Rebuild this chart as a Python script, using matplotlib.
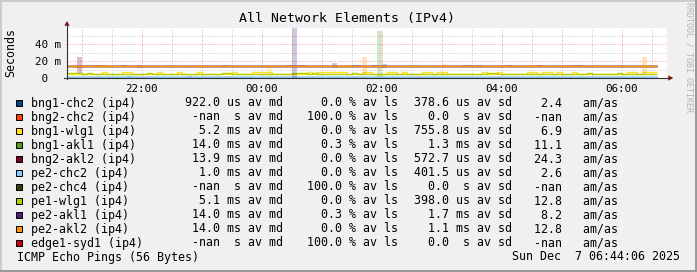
import math
import numpy as np
import matplotlib
matplotlib.use("Agg")
import matplotlib.pyplot as plt
from matplotlib.patches import Rectangle, Polygon

plt.rcParams["font.family"] = ["DejaVu Sans Mono", "DejaVu Sans"]

W, H = 697, 272

# time axis: minutes counted from 20:00, 5 minute steps starting 20:45
START_MIN = 45
STEP_MIN = 5
X_RANGE = (45.3, 645.3)   # 20:45 .. 06:45

# median rtt in ms per step (118 steps, 20:45 .. 06:35)
bng1_chc2_med = [
    0.9, 0.9, 0.9, 0.9, 0.9, 0.9, 0.9, 0.9, 0.9, 0.9, 0.9, 0.9, 1.6, 0.9, 0.9, 0.9, 0.9, 0.9, 0.9, 0.9,
    0.9, 0.9, 0.9, 0.9, 1.6, 0.9, 0.9, 0.9, 0.9, 0.9, 0.9, 0.9, 0.9, 0.9, 0.9, 0.9, 0.9, 0.9, 0.9, 0.9,
    0.9, 0.9, 0.9, 0.9, 0.9, 0.9, 0.9, 0.9, 0.9, 0.9, 0.9, 0.9, 0.9, 0.9, 0.9, 0.9, 0.9, 0.9, 0.9, 0.9,
    0.9, 0.9, 0.9, 0.9, 0.9, 0.9, 0.9, 0.9, 0.9, 0.9, 0.9, 0.9, 0.9, 0.9, 0.9, 0.9, 0.9, 0.9, 0.9, 0.9,
    0.9, 0.9, 0.9, 0.9, 0.9, 0.9, 0.9, 0.9, 0.9, 0.9, 0.9, 0.9, 0.9, 0.9, 0.9, 0.9, 0.9, 0.9, 0.9, 0.9,
    0.9, 0.9, 0.9, 0.9, 0.9, 0.9, 0.9, 0.9, 0.9, 0.9, 0.9, 0.9, 0.9, 0.9, 0.9, 0.9, 0.9, 0.9]
bng1_wlg1_med = [
    5.2, 5.2, 5.2, 5.2, 5.2, 5.2, 5.2, 6.8, 5.2, 5.2, 5.2, 6.8, 6.8, 5.2, 5.2, 5.2, 5.2, 5.2, 6.8, 5.2,
    5.2, 5.2, 6.8, 5.2, 5.2, 5.2, 6.8, 5.2, 5.2, 5.2, 5.2, 5.2, 5.2, 6.8, 5.2, 5.2, 5.2, 6.8, 6.8, 6.8,
    6.8, 5.2, 5.2, 5.2, 5.2, 5.2, 5.2, 5.2, 6.8, 5.2, 6.8, 6.8, 6.8, 6.8, 6.8, 6.8, 5.2, 5.2, 5.2, 6.8,
    6.8, 5.2, 5.2, 5.2, 6.8, 6.8, 5.2, 6.8, 5.2, 5.2, 5.2, 6.8, 6.8, 5.2, 6.8, 6.8, 5.2, 5.2, 5.2, 5.2,
    5.2, 5.2, 5.2, 6.8, 5.2, 5.2, 6.8, 5.2, 5.2, 5.2, 5.2, 5.2, 6.8, 6.8, 5.2, 6.8, 6.8, 5.2, 6.8, 5.2,
    5.2, 6.8, 5.2, 5.2, 5.2, 5.2, 5.2, 5.2, 5.2, 5.2, 5.2, 5.2, 6.8, 6.8, 5.2, 6.8, 6.8, 6.8]
bng1_akl1_med = [
    14.0, 14.0, 14.0, 14.0, 14.0, 14.0, 14.0, 14.0, 14.0, 14.0, 14.0, 14.0, 14.0, 14.0, 14.0, 14.0, 14.0, 14.0, 14.0, 14.0,
    14.0, 14.0, 14.0, 14.0, 14.0, 14.0, 14.0, 14.0, 14.0, 14.0, 14.0, 14.0, 14.0, 14.0, 14.0, 14.0, 14.0, 14.0, 14.0, 14.0,
    14.0, 14.0, 14.0, 14.0, 14.0, 14.0, 14.0, 14.0, 14.0, 14.0, 14.0, 14.0, 14.0, 14.0, 14.0, 14.0, 14.0, 14.0, 14.0, 14.0,
    14.0, 14.0, 14.1, 14.0, 14.0, 14.0, 14.0, 14.0, 14.0, 14.0, 14.0, 14.0, 14.0, 14.0, 14.0, 14.0, 14.0, 14.0, 14.0, 14.0,
    14.0, 14.0, 14.0, 14.0, 14.0, 14.0, 14.0, 14.0, 14.0, 14.0, 14.0, 14.0, 14.0, 14.0, 14.0, 14.0, 14.0, 14.0, 14.0, 14.0,
    14.0, 14.0, 14.0, 14.0, 14.0, 14.0, 14.0, 14.0, 14.0, 14.0, 14.0, 14.0, 14.0, 14.0, 14.0, 14.0, 14.0, 14.0]
bng2_akl2_med = [
    13.9, 13.9, 14.5, 13.9, 13.9, 14.0, 14.0, 14.0, 13.9, 13.9, 13.9, 14.0, 13.9, 13.9, 14.0, 13.9, 13.9, 13.9, 13.9, 13.9,
    13.9, 13.9, 13.9, 13.9, 13.9, 13.9, 13.9, 13.9, 13.9, 13.9, 13.9, 14.0, 13.9, 13.9, 13.9, 13.9, 13.9, 13.9, 13.9, 13.9,
    13.9, 13.9, 13.9, 13.9, 13.9, 13.9, 13.9, 13.9, 13.9, 13.9, 13.9, 13.9, 13.9, 13.9, 13.9, 13.9, 13.9, 13.9, 13.9, 13.9,
    13.9, 13.9, 13.9, 13.9, 13.9, 13.9, 13.9, 13.9, 13.9, 13.9, 13.9, 13.9, 13.9, 13.9, 13.9, 13.9, 13.9, 13.9, 13.9, 14.0,
    14.0, 13.9, 13.9, 13.9, 13.9, 13.9, 13.9, 13.9, 14.0, 13.9, 13.9, 13.9, 13.9, 13.9, 13.9, 13.9, 13.9, 13.9, 13.9, 13.9,
    13.9, 13.9, 14.0, 13.9, 13.9, 13.9, 13.9, 13.9, 13.9, 13.9, 13.9, 13.9, 13.9, 13.9, 13.9, 13.9, 13.9, 13.9]
pe2_chc2_med = [
    1.0, 1.0, 1.0, 1.0, 1.0, 1.0, 1.0, 1.0, 1.0, 1.0, 1.1, 1.1, 1.0, 1.0, 1.0, 1.0, 1.0, 1.0, 1.0, 1.0,
    1.0, 1.0, 1.0, 1.0, 1.0, 1.0, 1.0, 1.0, 1.0, 1.0, 1.0, 1.0, 1.1, 1.0, 1.0, 1.0, 1.0, 1.0, 1.0, 1.0,
    1.0, 1.0, 1.0, 1.0, 1.0, 1.0, 1.0, 1.0, 1.0, 1.0, 1.0, 1.0, 1.0, 1.1, 1.0, 1.0, 1.0, 1.0, 1.0, 1.0,
    1.0, 1.0, 1.0, 1.0, 1.0, 1.0, 1.0, 1.0, 1.0, 1.0, 1.0, 1.0, 1.0, 1.0, 1.0, 1.1, 1.0, 1.0, 1.0, 1.0,
    1.0, 1.0, 1.0, 1.0, 1.0, 1.0, 1.0, 1.0, 1.0, 1.0, 1.0, 1.0, 1.0, 1.0, 1.0, 1.0, 1.0, 1.0, 1.0, 1.0,
    1.0, 1.0, 1.0, 1.0, 1.0, 1.0, 1.0, 1.0, 1.0, 1.0, 1.0, 1.0, 1.0, 1.0, 1.0, 1.0, 1.0, 1.0]
pe1_wlg1_med = [
    6.0, 6.0, 6.0, 5.2, 6.0, 5.2, 5.2, 5.2, 5.2, 5.2, 5.2, 5.2, 5.2, 5.2, 5.2, 5.2, 6.0, 5.2, 5.2, 5.2,
    5.2, 5.2, 5.2, 5.2, 5.2, 5.2, 5.2, 5.2, 5.2, 5.2, 5.2, 6.0, 6.0, 5.2, 5.2, 5.2, 5.2, 5.2, 5.2, 5.2,
    5.2, 5.2, 5.2, 5.2, 5.2, 6.0, 6.0, 6.0, 5.2, 6.0, 5.2, 5.2, 5.2, 5.2, 5.2, 5.2, 5.2, 6.0, 5.2, 5.2,
    5.2, 5.2, 5.2, 5.2, 5.2, 5.2, 5.2, 5.2, 5.2, 5.2, 5.2, 5.2, 5.2, 5.2, 5.2, 5.2, 5.2, 5.2, 5.2, 5.2,
    5.2, 5.2, 5.2, 5.2, 6.0, 6.0, 5.2, 5.2, 5.2, 5.2, 5.2, 5.2, 5.2, 5.2, 5.2, 5.2, 5.2, 5.2, 5.2, 5.2,
    5.2, 5.2, 5.2, 5.2, 6.0, 5.2, 5.2, 5.2, 5.2, 5.2, 6.0, 5.2, 5.2, 5.2, 5.2, 5.2, 5.2, 5.2]
pe2_akl1_med = [
    14.0, 14.0, 14.0, 14.0, 14.0, 14.0, 14.0, 14.0, 14.0, 14.0, 14.0, 14.0, 14.0, 14.0, 14.0, 14.0, 14.0, 14.0, 14.0, 14.0,
    14.0, 14.0, 14.0, 14.0, 14.0, 14.0, 14.0, 14.0, 14.0, 14.0, 14.0, 14.0, 14.0, 14.0, 14.0, 14.0, 14.0, 14.0, 14.0, 14.0,
    14.0, 14.0, 14.0, 14.0, 14.1, 14.2, 14.1, 14.0, 14.0, 14.0, 14.0, 14.0, 14.0, 14.3, 14.0, 14.0, 14.0, 14.0, 14.0, 14.0,
    14.0, 14.0, 14.0, 14.2, 14.0, 14.0, 14.0, 14.0, 14.0, 14.0, 14.0, 14.0, 14.0, 14.0, 14.0, 14.0, 14.0, 14.0, 14.0, 14.0,
    14.0, 14.0, 14.0, 14.0, 14.0, 14.0, 14.0, 14.0, 14.0, 14.0, 14.0, 14.0, 14.0, 14.0, 14.1, 14.0, 14.0, 14.0, 14.0, 14.0,
    14.0, 14.0, 14.0, 14.0, 14.0, 14.0, 14.0, 14.0, 14.0, 14.0, 14.0, 14.0, 14.0, 14.0, 14.0, 14.0, 14.0, 14.0]
pe2_akl2_med = [
    14.3, 14.3, 14.4, 14.3, 14.3, 14.2, 14.3, 14.3, 14.3, 14.3, 14.3, 14.3, 14.4, 14.3, 14.3, 14.3, 14.3, 14.3, 14.2, 14.3,
    14.3, 14.3, 14.3, 14.3, 14.3, 14.3, 14.4, 14.3, 14.3, 14.3, 14.3, 14.3, 14.3, 14.3, 14.3, 14.2, 14.3, 14.3, 14.3, 14.3,
    14.3, 14.3, 14.3, 14.3, 14.3, 14.4, 14.3, 14.3, 14.3, 14.3, 14.3, 14.3, 14.3, 14.3, 14.3, 14.3, 14.3, 14.3, 14.3, 14.4,
    14.3, 14.3, 14.3, 14.3, 14.3, 14.3, 14.3, 14.3, 14.2, 14.3, 14.3, 14.3, 14.3, 14.3, 14.3, 14.3, 14.3, 14.3, 14.3, 14.3,
    14.3, 14.3, 14.3, 14.3, 14.3, 14.3, 14.3, 14.3, 14.3, 14.3, 14.3, 14.4, 14.3, 14.3, 14.3, 14.3, 14.3, 14.3, 14.3, 14.3,
    14.3, 14.3, 14.3, 14.3, 14.3, 14.3, 14.3, 14.3, 14.3, 14.3, 14.3, 14.3, 14.3, 14.3, 14.3, 14.4, 14.3, 14.3]

# smoke (std dev in ms) on the steps where it is visible: step -> value
bng1_chc2_sd = {12: 2.0, 24: 2.0}
bng1_wlg1_sd = {40: 14.0, 67: 4.0}
bng1_akl1_sd = {62: 84.0}
bng2_akl2_sd = {2: 20.0, 5: 3.0, 6: 3.0, 7: 3.0, 11: 3.0, 14: 4.0, 31: 3.0,
                79: 2.0, 80: 2.0, 88: 2.0, 102: 2.0}
pe2_chc2_sd = {10: 3.0, 11: 3.0, 32: 3.0, 53: 3.0, 75: 2.5}
pe1_wlg1_sd = {}
pe2_akl1_sd = {44: 2.5, 45: 120.0, 46: 2.5, 47: 2.5, 53: 6.0, 57: 2.5, 58: 2.5,
               61: 2.0, 63: 5.0, 82: 2.5, 94: 3.0, 101: 2.5}
pe2_akl2_sd = {5: 2.0, 6: 2.0, 7: 2.0, 26: 2.5, 42: 2.0, 48: 2.0, 56: 2.0,
               59: 20.0, 75: 3.5, 91: 2.5, 92: 2.5, 107: 2.5, 115: 20.0}

# legend
names = ["bng1-chc2 (ip4)", "bng2-chc2 (ip4)", "bng1-wlg1 (ip4)", "bng1-akl1 (ip4)",
         "bng2-akl2 (ip4)", "pe2-chc2 (ip4)", "pe2-chc4 (ip4)", "pe1-wlg1 (ip4)",
         "pe2-akl1 (ip4)", "pe2-akl2 (ip4)", "edge1-syd1 (ip4)"]
colors = ["#004586", "#ff420e", "#ffde20", "#579d1c", "#7e0021", "#83caff",
          "#314004", "#aecf00", "#4b1f6f", "#ff950e", "#c5000b"]
nan = float("nan")
med_val = [922.0, nan, 5.2, 14.0, 13.9, 1.0, nan, 5.1, 14.0, 14.0, nan]
med_unit = ["u", " ", "m", "m", "m", "m", " ", "m", "m", "m", " "]
loss_val = [0.0, 100.0, 0.0, 0.3, 0.0, 0.0, 100.0, 0.0, 0.3, 0.0, 100.0]
sd_val = [378.6, 0.0, 755.8, 1.3, 572.7, 401.5, 0.0, 398.0, 1.7, 1.1, 0.0]
sd_unit = ["u", " ", "u", "m", "u", "u", " ", "u", "m", "m", " "]
amas_val = [2.4, nan, 6.9, 11.1, 24.3, 2.6, nan, 12.8, 8.2, 12.8, nan]

series = [
    (bng1_chc2_med, bng1_chc2_sd), (None, None), (bng1_wlg1_med, bng1_wlg1_sd),
    (bng1_akl1_med, bng1_akl1_sd), (bng2_akl2_med, bng2_akl2_sd),
    (pe2_chc2_med, pe2_chc2_sd), (None, None), (pe1_wlg1_med, pe1_wlg1_sd),
    (pe2_akl1_med, pe2_akl1_sd), (pe2_akl2_med, pe2_akl2_sd), (None, None),
]

xtick_labels = ["22:00", "00:00", "02:00", "04:00", "06:00"]


def fmt(v):
    return " -nan" if math.isnan(v) else "%5.1f" % v


def to_min(label):
    h, m = label.split(":")
    mins = int(h) * 60 + int(m) - 20 * 60
    return mins + 1440 if mins < 0 else mins


fig = plt.figure(figsize=(W / 100, H / 100), dpi=100, facecolor="#f0f0f0")

# background layer in pixel coordinates
bg = fig.add_axes([0, 0, 1, 1], zorder=0)
bg.set_xlim(0, W)
bg.set_ylim(H, 0)
bg.axis("off")
bg.add_patch(Rectangle((0, 0), W, 2, color="#cbcbcb", lw=0))
bg.add_patch(Rectangle((0, 0), 2, H, color="#cbcbcb", lw=0))
bg.add_patch(Rectangle((0, H - 2), W, 2, color="#999999", lw=0))
bg.add_patch(Rectangle((W - 2, 0), 2, H, color="#999999", lw=0))

bg.text(347, 22, "All Network Elements (IPv4)", ha="center", va="baseline", fontsize=9.5)
bg.text(10.5, 52.5, "Seconds", rotation=90, ha="center", va="center", fontsize=8.4)
bg.text(689, 57, "RRDTOOL / TOBI OETIKER", rotation=270, ha="center", va="center",
        fontsize=6, color="#b4b4b4")

fs = 8.4
for r in range(len(names)):
    base = 106.5 + 14 * r
    bg.add_patch(Rectangle((15.5, base - 7), 6.5, 6.5, facecolor=colors[r],
                           edgecolor="black", lw=0.72))
    bg.text(30.7, base, names[r], fontsize=fs, va="baseline")
    bg.text(185, base, "%s %ss av md" % (fmt(med_val[r]), med_unit[r]), fontsize=fs, va="baseline")
    bg.text(307, base, "%s %% av ls" % fmt(loss_val[r]), fontsize=fs, va="baseline")
    bg.text(414, base, "%s %ss av sd" % (fmt(sd_val[r]), sd_unit[r]), fontsize=fs, va="baseline")
    bg.text(527, base, "%s   am/as" % fmt(amas_val[r]), fontsize=fs, va="baseline")
base = 106.5 + 14 * len(names)
bg.text(16.7, base, "ICMP Echo Pings (56 Bytes)", fontsize=fs, va="baseline")
bg.text(680.5, base, "Sun Dec  7 06:44:06 2025", fontsize=fs, va="baseline", ha="right")

# graph canvas
ax = fig.add_axes([67 / W, 1 - 78 / H, 600 / W, 50.5 / H], zorder=1, facecolor="white")
for sp in ax.spines.values():
    sp.set_visible(False)
ax.set_xlim(*X_RANGE)
ax.set_ylim(0, 60)

hours = list(range(60, 601, 60))
labels = {to_min(l): l for l in xtick_labels}
ax.set_xticks(hours, [labels.get(h, "") for h in hours])
ax.set_xticks(list(range(90, 631, 60)), minor=True)
ax.set_yticks([0, 20, 40], [" 0", "20 m", "40 m"])
ax.set_yticks([10, 30, 50], minor=True)
for lab in ax.get_yticklabels():
    lab.set_horizontalalignment("left")
ax.tick_params(axis="both", which="both", length=0, labelsize=7.8)
ax.tick_params(axis="x", pad=4.5)
ax.tick_params(axis="y", pad=23)
ax.grid(True, which="major", color="#f2a0a0", lw=0.72, linestyle=(0, (1, 1.5)))
ax.grid(True, which="minor", color="#cccccc", lw=0.72, linestyle=(0, (1, 1.5)))
ax.set_axisbelow(True)

n = len(pe2_akl2_med)
edges = START_MIN + STEP_MIN * np.arange(n + 1)
for col, (med, sd) in zip(colors, series):
    if med is None:
        continue
    for i, s in sd.items():
        ax.bar(edges[i], s, bottom=med[i] - s / 2, width=STEP_MIN, align="edge",
               color=col, alpha=0.25, lw=0)
    ax.stairs(med, edges, color=col, lw=1.0, baseline=None)

# axes lines and arrows on top
ov = fig.add_axes([0, 0, 1, 1], zorder=2)
ov.set_xlim(0, W)
ov.set_ylim(H, 0)
ov.axis("off")
ov.patch.set_alpha(0)
ov.plot([67, 67], [78.5, 24], color="#303030", lw=0.8)
ov.plot([63.5, 669], [78, 78], color="#303030", lw=0.8)
ov.add_patch(Polygon([[64.3, 25.7], [69.7, 25.7], [67, 21]], closed=True, color="#8a1010", lw=0))
ov.add_patch(Polygon([[668.3, 75.3], [668.3, 80.7], [673.3, 78]], closed=True, color="#8a1010", lw=0))

fig.savefig("out.png", dpi=100, facecolor=fig.get_facecolor())
